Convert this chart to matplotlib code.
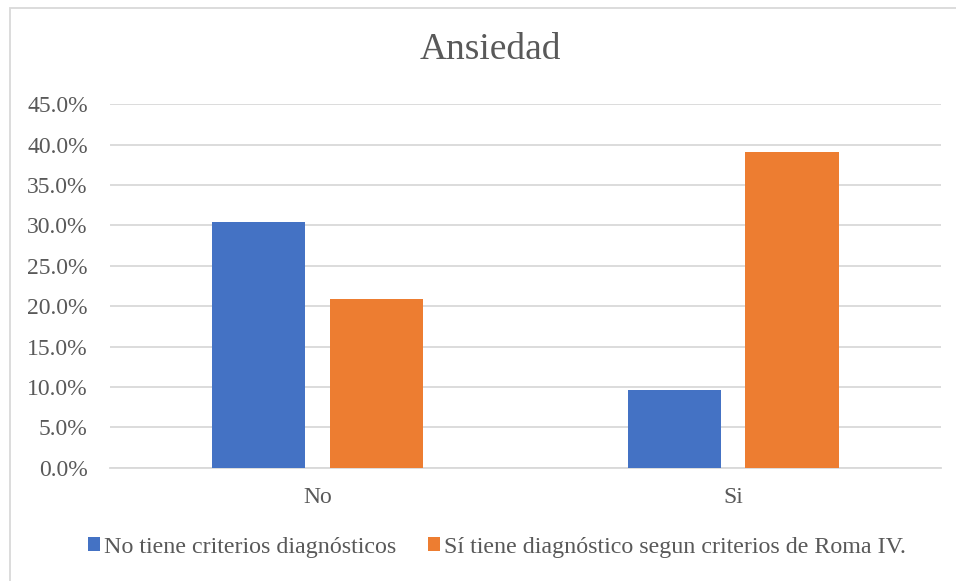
import matplotlib.pyplot as plt
import numpy as np
from matplotlib.patches import Rectangle

# datos
categorias = ["No", "Si"]
sin_criterios = [30.4, 9.6]
con_roma_iv = [20.9, 39.1]
series = ["No tiene criterios diagnósticos", "Sí tiene diagnóstico segun criterios de Roma IV."]
yticks = [0, 5, 10, 15, 20, 25, 30, 35, 40, 45]

azul = "#4472C4"
naranja = "#ED7D31"
gris_texto = "#595959"
gris_linea = "#D9D9D9"

plt.rcParams['font.family'] = ['Liberation Serif', 'DejaVu Serif']

fig = plt.figure(figsize=(9.56, 5.81), dpi=100)
ax = fig.add_axes([0.115, 0.195, 0.869, 0.6255])

x = np.arange(len(categorias))
ancho = 0.224
desp = 0.142
ax.bar(x - desp, sin_criterios, ancho, color=azul, label=series[0], zorder=3)
ax.bar(x + desp, con_roma_iv, ancho, color=naranja, label=series[1], zorder=3)

ax.set_xlim(-0.5, 1.5)
ax.set_ylim(0, 45)
ax.set_yticks(yticks)
ax.set_yticklabels([f"{v:.1f}%" for v in yticks])
ax.set_xticks(x)
ax.set_xticklabels(categorias)
ax.tick_params(axis='y', length=0, pad=16, labelsize=17, labelcolor=gris_texto)
ax.tick_params(axis='x', length=0, pad=14, labelsize=17, labelcolor=gris_texto)
ax.grid(axis='y', color=gris_linea, linewidth=1.3, zorder=0)
for s in ['top', 'right', 'left']:
    ax.spines[s].set_visible(False)
ax.spines['bottom'].set_color(gris_linea)
ax.spines['bottom'].set_linewidth(1.3)

fig.text(490 / 956, 1 - 50 / 581, "Ansiedad", ha='center', va='center',
         fontsize=27, color=gris_texto)

leg = fig.legend(loc='center', bbox_to_anchor=(497 / 956, 1 - 547 / 581), ncol=2,
                 frameon=False, fontsize=17.3, handlelength=0.5, handleheight=0.5,
                 handletextpad=0.17, columnspacing=1.3, borderpad=0)
for t in leg.get_texts():
    t.set_color(gris_texto)

# marco del área del gráfico
fig.patches.append(Rectangle((10 / 956, -0.1), 1.2, 1 - 8 / 581 + 0.1,
                             transform=fig.transFigure, fill=False,
                             edgecolor=gris_linea, linewidth=1.3))

plt.savefig("out.png")
